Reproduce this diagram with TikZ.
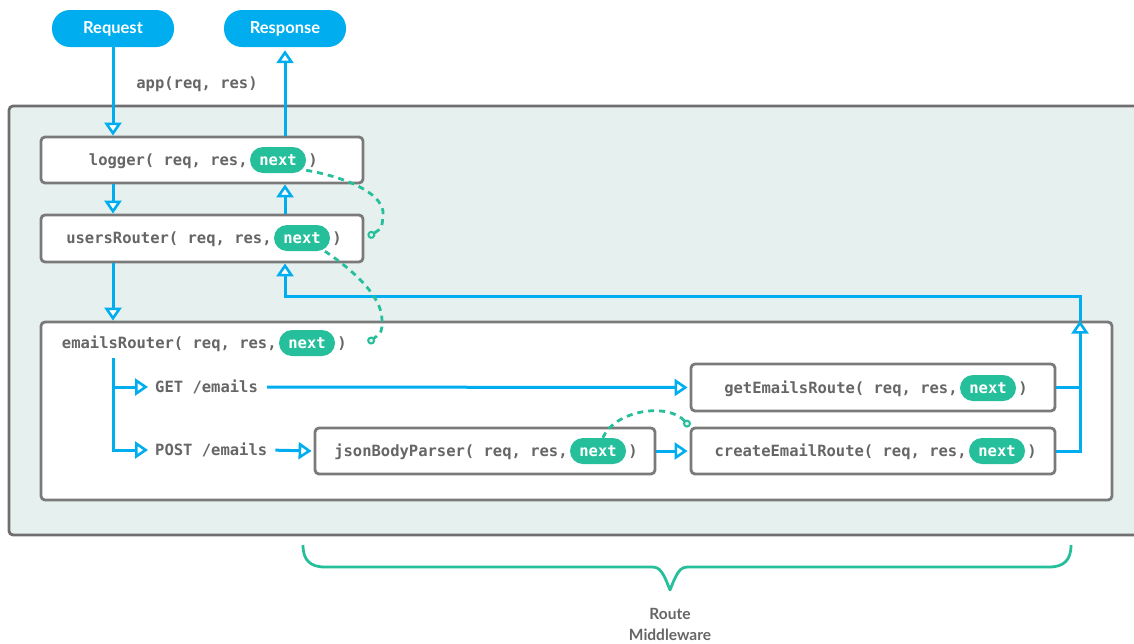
\documentclass[tikz,border=0pt]{standalone}
\usepackage{fontspec}
\setmainfont{Lato}
\newfontfamily\codefont{DejaVu Sans Mono}
\usetikzlibrary{arrows.meta,calc}
\definecolor{cyanA}{HTML}{00AEEF}
\definecolor{greenA}{HTML}{26BF9B}
\definecolor{bgA}{HTML}{E6F0EF}
\definecolor{borderA}{HTML}{7A7A7A}
\definecolor{textA}{HTML}{666666}
\tikzset{
  codestyle/.style={font=\codefont\bfseries\fontsize{15.5}{18}\selectfont, text=textA, inner sep=0pt},
  endpill/.style={fill=cyanA, rounded corners=18pt, minimum width=122pt, minimum height=37pt, text=white, font=\bfseries\fontsize{16.5}{18}\selectfont, inner sep=0pt},
  mwbox/.style={draw=borderA, line width=2.8pt, fill=white, rounded corners=4pt, inner sep=0pt},
  container/.style={draw=borderA!90!black, line width=2.8pt, fill=bgA, rounded corners=4pt, inner sep=0pt},
  nextpill/.style={fill=greenA, text=white, rounded corners=13pt, minimum width=56pt, minimum height=26pt, inner sep=0pt, font=\codefont\bfseries\fontsize{15.5}{18}\selectfont},
  flow/.style={draw=cyanA, line width=3pt, -{Triangle[fill=white, length=13pt, width=17pt, line width=2.6pt]}},
  plainflow/.style={draw=cyanA, line width=3pt},
  nextlink/.style={draw=greenA, line width=2.8pt, dash pattern=on 6pt off 5pt, -{Circle[fill=bgA, length=8pt, width=8pt, line width=2pt]}},
}
\begin{document}
\begin{tikzpicture}[x=1pt, y=-1pt]
\useasboundingbox (0,0) rectangle (1134,643);
% container
\node[container, minimum width=1140pt, minimum height=429pt] (app) at (579,320.5) {};
% endpoints
\node[endpill] (req) at (113,28.5) {Request};
\node[endpill] (resp) at (285,28.5) {Response};
\node[codestyle] (applbl) at (197,84) {app(req, res)};
% boxes
\node[mwbox, minimum width=322pt, minimum height=46pt] (logger) at (202,160) {};
\node[mwbox, minimum width=322pt, minimum height=47pt] (users) at (202,238.5) {};
\node[mwbox, minimum width=1071pt, minimum height=178pt] (emails) at (576.5,411) {};
\node[mwbox, minimum width=364pt, minimum height=47pt] (getbox) at (873,387.5) {};
\node[mwbox, minimum width=340pt, minimum height=46pt] (json) at (485,451) {};
\node[mwbox, minimum width=364pt, minimum height=46pt] (create) at (873,451) {};
% texts with next pills
\node[nextpill] (p1) at (278,160) {next};
\node[codestyle, anchor=base east] (t1) at ($(p1.base west)+(-2,0)$) {logger( req, res,};
\node[codestyle, anchor=base west] (e1) at ($(p1.base east)+(2,0)$) {)};
\node[nextpill] (p2) at (302,238) {next};
\node[codestyle, anchor=base east] (t2) at ($(p2.base west)+(-2,0)$) {usersRouter( req, res,};
\node[codestyle, anchor=base west] (e2) at ($(p2.base east)+(2,0)$) {)};
\node[nextpill] (p3) at (307,343) {next};
\node[codestyle, anchor=base east] (t3) at ($(p3.base west)+(-2,0)$) {emailsRouter( req, res,};
\node[codestyle, anchor=base west] (e3) at ($(p3.base east)+(2,0)$) {)};
\node[nextpill] (p4) at (988,388) {next};
\node[codestyle, anchor=base east] (t4) at ($(p4.base west)+(-2,0)$) {getEmailsRoute( req, res,};
\node[codestyle, anchor=base west] (e4) at ($(p4.base east)+(2,0)$) {)};
\node[nextpill] (p5) at (598,451) {next};
\node[codestyle, anchor=base east] (t5) at ($(p5.base west)+(-2,0)$) {jsonBodyParser( req, res,};
\node[codestyle, anchor=base west] (e5) at ($(p5.base east)+(2,0)$) {)};
\node[nextpill] (p6) at (997,451) {next};
\node[codestyle, anchor=base east] (t6) at ($(p6.base west)+(-2,0)$) {createEmailRoute( req, res,};
\node[codestyle, anchor=base west] (e6) at ($(p6.base east)+(2,0)$) {)};
% route labels
\node[codestyle, anchor=west] (getl) at (155,387) {GET /emails};
\node[codestyle, anchor=west] (postl) at (155,450) {POST /emails};
% coordinates
\coordinate (brtop) at (113,358);
\coordinate (rx) at (1080,296);
\coordinate (c1) at (368,237);
\coordinate (c2) at (368,343);
% main flow
\draw[flow] (req.south) -- (req.south |- logger.north);
\draw[flow, shorten >=3pt] (logger.north -| resp.south) -- (resp.south);
\draw[flow] (logger.south -| req.south) -- (users.north -| req.south);
\draw[flow] (users.north -| resp.south) -- (logger.south -| resp.south);
\draw[flow] (users.south -| req.south) -- (emails.north -| req.south);
\draw[flow, shorten >=7pt] (brtop) |- (getl.west);
\draw[flow, shorten >=7pt] (brtop) |- (postl.west);
\draw[flow, shorten <=9pt, shorten >=2pt] (getl.east) -- (getbox.west);
\draw[flow, shorten <=8pt, shorten >=2pt] (postl.east) -- (json.west);
\draw[flow, shorten >=2pt] (json.east) -- (create.west);
\draw[plainflow] (getbox.east) -- (getbox.east -| rx);
\draw[flow] (create.east) -| (emails.north -| rx);
\draw[flow] (emails.north -| rx) -- (rx) -| (users.south -| resp.south);
% next links
\draw[nextlink] (p1.-20) .. controls (350,178) and (385,195) .. (383,215) .. controls (382,228) .. (c1);
\draw[nextlink] (p2.-30) .. controls (350,268) and (382,295) .. (382,320) .. controls (382,332) .. (c2);
\draw[nextlink] (p5.70) .. controls (615,410) and (668,402) .. (create.north west);
% brace
\draw[greenA, line width=2.8pt, line join=round] (303,545) .. controls (303,560) and (310,567) .. (325,567) -- (652,567) .. controls (660,567) and (663,572) .. (670,590) .. controls (677,572) and (680,567) .. (688,567) -- (1049,567) .. controls (1064,567) and (1071,560) .. (1071,545);
\node[align=center, text=textA, font=\bfseries\fontsize{15.5}{21}\selectfont] (rm) at (670,624) {Route\\Middleware};
\end{tikzpicture}
\end{document}
